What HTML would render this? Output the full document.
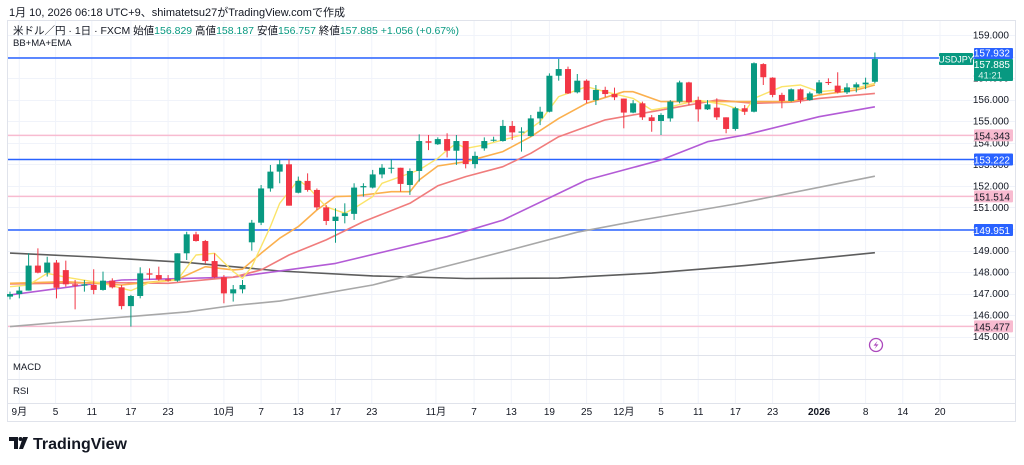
<!DOCTYPE html>
<html><head><meta charset="utf-8"><style>
html,body{margin:0;padding:0;background:#fff;}
svg{display:block;font-family:"Liberation Sans","Noto Sans CJK JP",sans-serif;}
</style></head><body>
<svg id="chart" width="1024" height="465" viewBox="0 0 1024 465">
<text x="9" y="16" font-size="11" fill="#131722">1月 10, 2026 06:18 UTC+9、shimatetsu27がTradingView.comで作成</text>
<rect x="7.5" y="20.5" width="1008" height="401" fill="none" stroke="#e0e3eb"/>
<g id="grid"></g>
<g id="hlines"></g>
<g id="malines"></g>
<g id="candles"></g>
<g id="axis"></g>
<g id="xaxis"></g>
<text x="13" y="34" font-size="10.5" fill="#131722">米ドル／円 · 1日 · FXCM  始値<tspan fill="#089981">156.829</tspan>  高値<tspan fill="#089981">158.187</tspan>  安値<tspan fill="#089981">156.757</tspan>  終値<tspan fill="#089981">157.885</tspan>  <tspan fill="#089981">+1.056 (+0.67%)</tspan></text>
<text x="13" y="46" font-size="9.5" fill="#131722">BB+MA+EMA</text>
<line x1="8" y1="355.5" x2="1015" y2="355.5" stroke="#e0e3eb"/>
<line x1="8" y1="379.5" x2="1015" y2="379.5" stroke="#e0e3eb"/>
<line x1="8" y1="403.5" x2="1015" y2="403.5" stroke="#e0e3eb"/>
<text x="13" y="370" font-size="9.5" fill="#131722">MACD</text>
<text x="13" y="394" font-size="9.5" fill="#131722">RSI</text>
<g><circle cx="876" cy="345" r="6.5" fill="#fff" stroke="#ab47bc" stroke-width="1.3"/><path d="M877.5 341 L873.5 345.6 L876.3 345.6 L874.5 349 L878.5 344.4 L875.8 344.4 Z" fill="#ab47bc"/></g>
<g><path d="M9 437 h9 v12 h-4 v-8 h-5 z" fill="#131722"/><circle cx="20.5" cy="439" r="2" fill="#131722"/><path d="M23 437 h5 l-5 12 h-4 z" fill="#131722"/><text x="33" y="449" font-size="16" font-weight="bold" fill="#131722">TradingView</text></g>
</svg>
<script>
const idx=[1,2,3,4,5,6,7,8,9,10,11,12,13,14,15,16,17,18,19,20,21,22,23,24,25,26,27,28,29,30,31,32,33,34,35,36,37,38,39,40,41,42,43,44,45,46,47,48,49,50,51,52,53,54,55,56,57,58,59,60,61,62,63,64,65,66,67,68,69,70,71,72,73,74,75,76,77,78,79,80,81,82,83,84,85,86,87,88,89,90,91,92,93,94];
const opens=[146.86,146.98,147.14,148.30,147.97,148.44,148.09,147.43,147.37,147.40,147.17,147.60,147.29,146.42,146.89,147.94,147.86,147.66,147.60,148.87,149.75,149.44,148.51,147.76,147.01,147.20,149.38,150.29,151.88,152.66,153.00,151.68,152.23,151.81,151.00,150.37,150.60,150.70,151.93,151.92,152.53,152.80,152.84,152.04,152.69,154.07,153.93,154.17,153.63,154.08,153.01,153.74,154.10,154.08,154.78,154.47,154.31,155.13,155.44,157.11,157.42,156.34,156.88,155.98,156.45,156.26,156.05,155.40,155.83,155.18,155.01,155.13,155.91,156.80,155.98,155.55,155.63,155.18,154.64,155.60,155.44,157.65,157.02,156.22,155.94,156.48,155.98,156.29,156.82,156.65,156.34,156.57,156.71,156.83];
const highs=[147.09,147.32,148.87,149.10,148.71,148.56,148.53,147.63,147.63,148.13,148.02,147.71,147.40,146.94,148.22,148.17,148.25,147.86,148.87,149.87,149.87,149.49,148.87,147.86,147.40,147.63,150.42,152.04,152.97,153.20,153.23,152.43,152.58,151.88,151.11,150.96,151.19,152.12,152.12,152.74,153.01,153.23,152.84,152.81,154.39,154.36,154.25,154.44,154.36,154.08,153.59,154.25,154.28,155.06,155.01,154.72,155.29,155.67,157.22,157.89,157.53,157.19,156.94,156.68,156.60,156.56,156.05,155.98,155.91,155.29,155.37,155.98,156.88,156.83,156.14,155.98,156.06,155.18,155.67,155.75,157.73,157.69,157.04,156.32,156.52,156.52,156.37,156.91,156.99,157.27,156.76,156.80,157.02,158.187];
const lows=[146.73,146.78,147.14,147.94,147.79,146.78,147.32,146.27,147.09,146.97,147.14,147.24,146.27,145.47,146.78,147.63,147.60,147.55,147.55,148.56,149.41,148.40,147.71,146.55,146.63,147.01,148.99,150.18,151.73,152.12,151.08,151.65,151.73,150.88,150.18,149.36,150.26,150.42,151.50,151.88,152.35,152.58,151.73,151.58,152.20,153.66,153.90,153.32,152.97,152.81,152.81,153.63,154.05,154.05,154.13,153.59,154.28,154.82,155.41,156.88,156.26,156.29,155.83,155.75,156.11,155.98,154.67,155.37,155.06,154.51,154.36,154.98,155.83,155.75,154.98,155.52,155.06,154.44,154.56,155.29,155.41,156.68,156.11,155.60,155.91,155.83,155.95,156.26,156.68,156.29,156.26,156.34,156.49,156.757];
const closes=[146.98,147.14,148.30,147.97,148.44,147.27,147.43,147.37,147.43,147.17,147.60,147.29,146.42,146.89,147.94,147.88,147.66,147.60,148.87,149.75,149.44,148.51,147.76,147.01,147.20,147.40,150.29,151.88,152.66,153.00,151.08,152.23,151.81,151.00,150.37,150.57,150.73,151.92,151.99,152.53,152.84,152.84,152.09,152.69,154.08,154.00,154.17,153.63,154.08,153.01,153.39,154.08,154.14,154.78,154.48,154.52,155.13,155.44,157.11,157.42,156.29,156.88,155.98,156.45,156.26,156.11,155.40,155.83,155.18,155.01,155.29,155.91,156.80,155.88,155.55,155.78,155.18,154.64,155.60,155.44,157.69,157.04,156.22,155.94,156.48,155.98,156.29,156.80,156.77,156.34,156.57,156.71,156.79,157.885];

const ma200Idx=[1,10,20,30,40,50,60,70,80,94];
const ma200Val=[148.88,148.70,148.45,148.05,147.82,147.70,147.72,147.95,148.30,148.90];
const ma100Idx=[1,10,20,25,30,40,48,55,62,69,79,94];
const ma100Val=[145.47,145.80,146.15,146.45,146.65,147.40,148.28,149.05,149.85,150.42,151.16,152.45];
const ma50Idx=[1,13,25,36,48,54,63,71,76,80,88,94];
const ma50Val=[146.94,147.63,147.76,148.40,149.64,150.41,152.27,153.20,154.05,154.36,155.21,155.67];
const ma20Idx=[1,11,18,25,28,31,35,39,44,47,50,54,57,60,65,70,77,81,85,88,94];
const ma20Val=[147.45,147.51,147.48,147.76,148.10,148.79,149.49,150.34,151.19,152.00,152.43,152.89,153.51,154.28,155.06,155.44,155.98,155.83,155.88,156.06,156.29];
const ema10Idx=[1,7,13,19,22,25,26,28,30,32,34,36,38,42,44,45,47,50,54,57,60,63,67,68,71,74,78,81,85,88,92,94];
const ema10Val=[147.48,147.55,147.40,147.66,148.25,148.10,148.13,148.87,149.57,150.11,150.88,151.50,151.53,151.73,151.73,152.27,152.92,153.12,153.59,154.28,155.13,155.83,156.37,156.37,155.91,155.91,155.91,155.91,155.91,156.22,156.45,156.68];
const ma5Idx=[1,3,5,7,11,14,16,19,21,23,25,26,27,29,30,32,33,35,37,38,40,41,43,45,47,48,49,50,52,56,58,60,63,65,68,70,72,75,78,80,81,84,86,88,90,92,94];
const ma5Val=[147.32,147.40,147.94,147.76,147.48,147.14,147.51,147.63,148.79,148.87,148.02,147.71,148.25,150.11,151.19,152.27,151.96,151.03,150.73,150.96,151.50,152.12,152.43,152.74,153.28,153.66,153.97,153.74,153.90,154.36,154.98,156.14,156.60,156.37,156.06,155.52,155.67,155.98,155.75,155.44,156.06,156.60,156.68,156.37,156.45,156.53,156.76];

const priceTicks=[159,158,157,156,155,154,153,152,151,150,149,148,147,146,145];
const levelVals=[157.932,153.222,149.951,154.343,151.514,145.477];
const levelKinds=["blue","blue","blue","pink","pink","pink"];
const dateLabels=["9月","5","11","17","23","10月","7","13","17","23","11月","7","13","19","25","12月","5","11","17","23","2026","8","14","20"];
const dateIdx=[2,5.9,9.8,14,18,24,28,32,36,39.9,46.8,50.9,54.9,59,63,67,71,75,79,83,88,93,97,101];

const NS="http://www.w3.org/2000/svg";
const yS=p=>35+(159-p)*21.55;
const xS=i=>10+(i-1)*9.3;
function mk(tag,attrs,parent){const e=document.createElementNS(NS,tag);for(const k in attrs)e.setAttribute(k,attrs[k]);parent.appendChild(e);return e;}
const grid=document.getElementById('grid'),hl=document.getElementById('hlines'),ml=document.getElementById('malines'),cg=document.getElementById('candles'),ax=document.getElementById('axis'),xa=document.getElementById('xaxis');

priceTicks.forEach(p=>{const l=mk('line',{x1:8,x2:1015,y1:Math.round(yS(p))+0.5,y2:Math.round(yS(p))+0.5,stroke:'#f0f3fa'},grid);


const t=mk('text',{x:1009,y:yS(p)+3.5,'text-anchor':'end','font-size':'10',fill:'#131722'},ax);t.textContent=p.toFixed(3);

});
dateLabels.forEach((d,k)=>{const x=xS(dateIdx[k]);const l=mk('line',{x1:x,x2:x,y1:21,y2:403,stroke:'#f0f3fa'},grid);


const t=mk('text',{x:x,y:415,'text-anchor':'middle','font-size':'10',fill:'#131722','font-weight':d==='2026'?'bold':'normal'},xa);t.textContent=d;

});

levelVals.forEach((v,k)=>{const c=levelKinds[k]==='blue'?'#2962ff':'#f8bbd0';const y=yS(v);
const l=mk('line',{x1:8,x2:974,y1:y,y2:y,stroke:c,'stroke-width':1.5},hl);


if(k===0)return;
const r=mk('rect',{x:974,y:y-6,width:39,height:12,fill:c,rx:1},ax);


const t=mk('text',{x:1010,y:y+4,'text-anchor':'end','font-size':'10',fill:levelKinds[k]==='blue'?'#fff':'#131722'},ax);t.textContent=v.toFixed(3);

});

function line(ix,vals,color,w,name){const pts=ix.map((i,k)=>xS(i).toFixed(1)+','+yS(vals[k]).toFixed(1)).join(' ');
const p=mk('polyline',{points:pts,fill:'none',stroke:color,'stroke-width':w,'stroke-linejoin':'round'},ml);

}
line(ma200Idx,ma200Val,'#5d5d5d',1.6,'ma200-line');
line(ma100Idx,ma100Val,'#a8a8a8',1.6,'ma100-line');
line(ma50Idx,ma50Val,'#b35bd6',1.6,'ma50-line');
line(ma20Idx,ma20Val,'#f07c7c',1.6,'ma20-line');
line(ema10Idx,ema10Val,'#fbb04e',1.6,'ema10-line');
line(ma5Idx,ma5Val,'#fbe469',1.4,'ma5-line');

idx.forEach((i,k)=>{const up=closes[k]>=opens[k];const c=up?'#089981':'#f23645';const x=xS(i);
const w=mk('line',{x1:x,x2:x,y1:yS(highs[k]),y2:yS(lows[k]),stroke:c,'stroke-width':1},cg);


const top=yS(Math.max(opens[k],closes[k])),bot=yS(Math.min(opens[k],closes[k]));
const b=mk('rect',{x:x-3,y:top,width:6,height:Math.max(1,bot-top),fill:c},cg);

});

const yc=yS(157.932);
const r1=mk('rect',{x:974,y:yc-10,width:39,height:11,fill:'#2962ff',rx:1},ax);


const t1=mk('text',{x:1010,y:yc-1.5,'text-anchor':'end','font-size':'10',fill:'#fff'},ax);t1.textContent='157.932';


const r2=mk('rect',{x:974,y:yc+1,width:39,height:22,fill:'#089981',rx:1},ax);


const t2=mk('text',{x:1010,y:yc+10,'text-anchor':'end','font-size':'10',fill:'#fff'},ax);t2.textContent='157.885';


const t3=mk('text',{x:1002,y:yc+20.5,'text-anchor':'end','font-size':'9.5',fill:'#d8f3ec'},ax);t3.textContent='41:21';


const r3=mk('rect',{x:939,y:yc-5,width:34,height:12,fill:'#089981',rx:1},ax);


const t4=mk('text',{x:956,y:yc+4.5,'text-anchor':'middle','font-size':'9',fill:'#fff'},ax);t4.textContent='USDJPY';


</script>
</body></html>
